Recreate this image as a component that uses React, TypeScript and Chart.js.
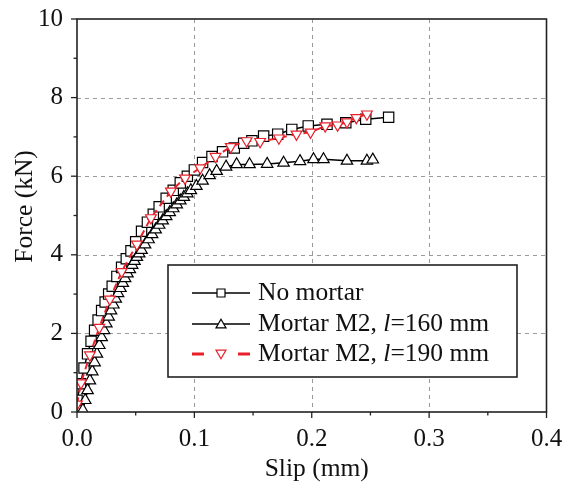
import React, { useEffect, useRef } from 'react';
import { Chart, registerables } from 'chart.js';

Chart.register(...registerables);

// ---- data ----
const noMortarSlip = [0, 0.003, 0.006, 0.009, 0.012, 0.015, 0.018, 0.021, 0.024, 0.027, 0.030, 0.034, 0.038, 0.042, 0.046, 0.050, 0.055, 0.060, 0.065, 0.070, 0.076, 0.082, 0.088, 0.094, 0.100, 0.107, 0.115, 0.124, 0.134, 0.142, 0.149, 0.159, 0.171, 0.183, 0.197, 0.213, 0.229, 0.246, 0.2655];
const noMortarForce = [0.3, 0.72, 1.12, 1.48, 1.8, 2.08, 2.34, 2.58, 2.8, 3.0, 3.2, 3.45, 3.68, 3.9, 4.1, 4.33, 4.6, 4.83, 5.03, 5.22, 5.44, 5.64, 5.83, 6.0, 6.16, 6.35, 6.5, 6.62, 6.72, 6.84, 6.9, 7.02, 7.07, 7.19, 7.28, 7.32, 7.36, 7.45, 7.5];

const m160Slip = [0.005, 0.007, 0.009, 0.011, 0.013, 0.015, 0.017, 0.019, 0.021, 0.023, 0.025, 0.027, 0.029, 0.031, 0.033, 0.035, 0.037, 0.039, 0.041, 0.043, 0.045, 0.047, 0.049, 0.051, 0.053, 0.055, 0.058, 0.061, 0.064, 0.067, 0.070, 0.073, 0.076, 0.079, 0.082, 0.085, 0.088, 0.091, 0.094, 0.097, 0.1017, 0.107, 0.113, 0.119, 0.127, 0.136, 0.147, 0.162, 0.176, 0.19, 0.2015, 0.21, 0.23, 0.247, 0.252];
const m160Force = [0.05, 0.3, 0.55, 0.8, 1.03, 1.26, 1.48, 1.7, 1.9, 2.08, 2.25, 2.42, 2.58, 2.73, 2.88, 3.02, 3.15, 3.28, 3.4, 3.52, 3.63, 3.74, 3.84, 3.94, 4.03, 4.12, 4.26, 4.39, 4.52, 4.64, 4.76, 4.87, 4.98, 5.08, 5.18, 5.28, 5.38, 5.47, 5.56, 5.64, 5.75, 5.88, 6.02, 6.13, 6.24, 6.3, 6.3, 6.31, 6.34, 6.38, 6.43, 6.43, 6.39, 6.39, 6.42];

const m190Slip = [0, 0.0034, 0.011, 0.019, 0.028, 0.038, 0.051, 0.063, 0.080, 0.092, 0.105, 0.118, 0.131, 0.1445, 0.156, 0.172, 0.187, 0.199, 0.2115, 0.222, 0.230, 0.238, 0.247];
const m190Force = [0.2, 0.74, 1.45, 2.15, 2.87, 3.57, 4.27, 4.94, 5.62, 5.95, 6.21, 6.5, 6.75, 6.9, 6.88, 6.97, 7.07, 7.12, 7.28, 7.3, 7.38, 7.49, 7.58];

const xMajorTicks = [0, 0.1, 0.2, 0.3, 0.4];
const xMinorTicks = [0.05, 0.15, 0.25, 0.35];
const yMajorTicks = [0, 2, 4, 6, 8, 10];
const yMinorTicks = [1, 3, 5, 7, 9];

const xTitle = 'Slip (mm)';
const yTitle = 'Force (kN)';
const seriesNames = ['No mortar', 'Mortar M2, l=160 mm', 'Mortar M2, l=190 mm'];

const RED = '#e8202a';
const FONT = "'Liberation Serif', 'Times New Roman', serif";

const toPoints = (xs: number[], ys: number[]) => xs.map((x, i) => ({ x, y: ys[i] }));

function drawMarker(ctx: CanvasRenderingContext2D, kind: string, x: number, y: number, s: number, color: string) {
  ctx.save();
  ctx.fillStyle = '#fff';
  ctx.strokeStyle = color;
  ctx.lineWidth = 1.2;
  ctx.setLineDash([]);
  ctx.beginPath();
  if (kind === 'rect') {
    ctx.rect(x - s / 2, y - s / 2, s, s);
  } else if (kind === 'tri') {
    ctx.moveTo(x, y - s * 0.58);
    ctx.lineTo(x + s / 2, y + s * 0.29);
    ctx.lineTo(x - s / 2, y + s * 0.29);
    ctx.closePath();
  } else {
    ctx.moveTo(x, y + s * 0.58);
    ctx.lineTo(x + s / 2, y - s * 0.29);
    ctx.lineTo(x - s / 2, y - s * 0.29);
    ctx.closePath();
  }
  ctx.fill();
  ctx.stroke();
  ctx.restore();
}

const framePlugin = {
  id: 'frame',
  beforeDatasetsDraw(chart: any) {
    const { ctx, chartArea: a, scales } = chart;
    const xs = scales.x, ys = scales.y;
    ctx.save();
    ctx.strokeStyle = '#9a9a9a';
    ctx.lineWidth = 1;
    ctx.setLineDash([4, 4]);
    xMajorTicks.forEach((v) => {
      const px = Math.round(xs.getPixelForValue(v)) + 0.5;
      if (px <= a.left + 2 || px >= a.right - 2) return;
      ctx.beginPath(); ctx.moveTo(px, a.top); ctx.lineTo(px, a.bottom); ctx.stroke();
    });
    yMajorTicks.forEach((v) => {
      const py = Math.round(ys.getPixelForValue(v)) + 0.5;
      if (py <= a.top + 2 || py >= a.bottom - 2) return;
      ctx.beginPath(); ctx.moveTo(a.left, py); ctx.lineTo(a.right, py); ctx.stroke();
    });
    ctx.restore();
  },
  afterDraw(chart: any) {
    const { ctx, chartArea: a, scales } = chart;
    const xs = scales.x, ys = scales.y;
    ctx.save();
    ctx.strokeStyle = '#222';
    ctx.lineWidth = 1.6;
    ctx.setLineDash([]);
    ctx.strokeRect(a.left, a.top, a.right - a.left, a.bottom - a.top);
    ctx.lineWidth = 1.3;
    const tick = (x1: number, y1: number, x2: number, y2: number) => {
      ctx.beginPath(); ctx.moveTo(x1, y1); ctx.lineTo(x2, y2); ctx.stroke();
    };
    xMajorTicks.forEach((v) => { const p = xs.getPixelForValue(v); tick(p, a.bottom, p, a.bottom + 6); });
    xMinorTicks.forEach((v) => { const p = xs.getPixelForValue(v); tick(p, a.bottom, p, a.bottom + 3.5); });
    yMajorTicks.forEach((v) => { const p = ys.getPixelForValue(v); tick(a.left, p, a.left - 6, p); });
    yMinorTicks.forEach((v) => { const p = ys.getPixelForValue(v); tick(a.left, p, a.left - 3.5, p); });

    // axis titles
    ctx.fillStyle = '#111';
    ctx.font = `25.5px ${FONT}`;
    ctx.textAlign = 'center';
    ctx.textBaseline = 'alphabetic';
    ctx.fillText(xTitle, (a.left + a.right) / 2 + 5, a.bottom + 64);
    ctx.save();
    ctx.translate(a.left - 45, (a.top + a.bottom) / 2 - 9);
    ctx.rotate(-Math.PI / 2);
    ctx.fillText(yTitle, 0, 0);
    ctx.restore();
    ctx.restore();
  },
};

const legendPlugin = {
  id: 'boxLegend',
  afterDatasetsDraw(chart: any) {
    const ctx: CanvasRenderingContext2D = chart.ctx;
    const bx = 168, by = 265, bw = 349, bh = 112;
    ctx.save();
    ctx.fillStyle = '#fff';
    ctx.fillRect(bx, by, bw, bh);
    ctx.strokeStyle = '#222';
    ctx.lineWidth = 1.6;
    ctx.strokeRect(bx, by, bw, bh);
    const rows = [293, 324, 354];
    const lx1 = 192, lx2 = 250, mx = 221, tx = 258;
    ctx.strokeStyle = '#000';
    ctx.lineWidth = 1.5;
    ctx.beginPath(); ctx.moveTo(lx1, rows[0]); ctx.lineTo(lx2, rows[0]); ctx.stroke();
    drawMarker(ctx, 'rect', mx, rows[0], 8, '#000');
    ctx.beginPath(); ctx.moveTo(lx1, rows[1]); ctx.lineTo(lx2, rows[1]); ctx.stroke();
    drawMarker(ctx, 'tri', mx, rows[1] + 1, 10, '#000');
    ctx.strokeStyle = RED;
    ctx.lineWidth = 3;
    ctx.beginPath(); ctx.moveTo(lx1, rows[2]); ctx.lineTo(lx1 + 12, rows[2]); ctx.stroke();
    ctx.beginPath(); ctx.moveTo(lx2 - 12, rows[2]); ctx.lineTo(lx2, rows[2]); ctx.stroke();
    drawMarker(ctx, 'dtri', mx, rows[2] - 1, 10, RED);

    ctx.fillStyle = '#111';
    ctx.textBaseline = 'middle';
    ctx.textAlign = 'left';
    const normal = `25.5px ${FONT}`;
    const italic = `italic 25.5px ${FONT}`;
    ctx.font = normal;
    ctx.fillText(seriesNames[0], tx, rows[0]);
    [1, 2].forEach((i) => {
      const name = seriesNames[i];
      const k = name.indexOf('l=');
      const pre = name.slice(0, k);
      const it = 'l';
      const post = name.slice(k + 1);
      let x = tx;
      ctx.font = normal; ctx.fillText(pre, x, rows[i]); x += ctx.measureText(pre).width;
      ctx.font = italic; ctx.fillText(it, x, rows[i]); x += ctx.measureText(it).width;
      ctx.font = normal; ctx.fillText(post, x, rows[i]);
    });
    ctx.restore();
  },
};

const zeroPad = (s: any) => {
  s.paddingLeft = 0;
  s.paddingRight = 0;
  s.paddingTop = 0;
  s.paddingBottom = 0;
};

export default function App() {
  const ref = useRef<HTMLCanvasElement | null>(null);
  useEffect(() => {
    if (!ref.current) return;
    Chart.defaults.font.family = FONT;
    Chart.defaults.color = '#111';
    const chart = new Chart(ref.current, {
      type: 'line',
      data: {
        datasets: [
          {
            label: seriesNames[0],
            data: toPoints(noMortarSlip, noMortarForce),
            borderColor: '#000',
            borderWidth: 1.5,
            pointStyle: 'rect',
            pointRadius: 7.3,
            pointBorderWidth: 1.2,
            pointBackgroundColor: '#fff',
            pointBorderColor: '#000',
            order: 2,
            tension: 0,
          },
          {
            label: seriesNames[1],
            data: toPoints(m160Slip, m160Force),
            borderColor: '#000',
            borderWidth: 1.5,
            pointStyle: 'triangle',
            pointRadius: 6.6,
            pointBorderWidth: 1.2,
            pointBackgroundColor: '#fff',
            pointBorderColor: '#000',
            order: 1,
            tension: 0,
          },
          {
            label: seriesNames[2],
            data: toPoints(m190Slip, m190Force),
            borderColor: RED,
            borderWidth: 2,
            borderDash: [7, 5],
            pointStyle: 'triangle',
            rotation: 180,
            pointRadius: 6.2,
            pointBorderWidth: 1.2,
            pointBackgroundColor: '#fff',
            pointBorderColor: RED,
            order: 0,
            tension: 0,
          },
        ] as any,
      },
      options: {
        animation: false,
        responsive: false,
        devicePixelRatio: 1,
        layout: { autoPadding: false, padding: { top: 19, right: 17.5, left: 0, bottom: 0 } },
        plugins: { legend: { display: false }, tooltip: { enabled: false } },
        scales: {
          x: {
            type: 'linear',
            min: 0,
            max: 0.4,
            grid: { display: false, drawTicks: false },
            border: { display: false },
            afterBuildTicks: (s: any) => { s.ticks = xMajorTicks.map((v) => ({ value: v })); },
            afterFit: (s: any) => { s.height = 78; zeroPad(s); },
            ticks: {
              padding: 12,
              font: { size: 25, family: FONT },
              color: '#111',
              maxRotation: 0,
              callback: (v: any) => Number(v).toFixed(1),
            },
          },
          y: {
            type: 'linear',
            min: 0,
            max: 10,
            grid: { display: false, drawTicks: false },
            border: { display: false },
            afterBuildTicks: (s: any) => { s.ticks = yMajorTicks.map((v) => ({ value: v })); },
            afterFit: (s: any) => { s.width = 77; zeroPad(s); },
            ticks: {
              padding: 14,
              font: { size: 25, family: FONT },
              color: '#111',
              callback: (v: any) => String(v),
            },
          },
        },
      },
      plugins: [framePlugin, legendPlugin],
    });
    return () => chart.destroy();
  }, []);
  return (
    <div style={{ position: 'absolute', left: 0, top: 0, width: 564, height: 490, background: '#fff' }}>
      <canvas ref={ref} width={564} height={490} style={{ display: 'block' }} />
    </div>
  );
}
